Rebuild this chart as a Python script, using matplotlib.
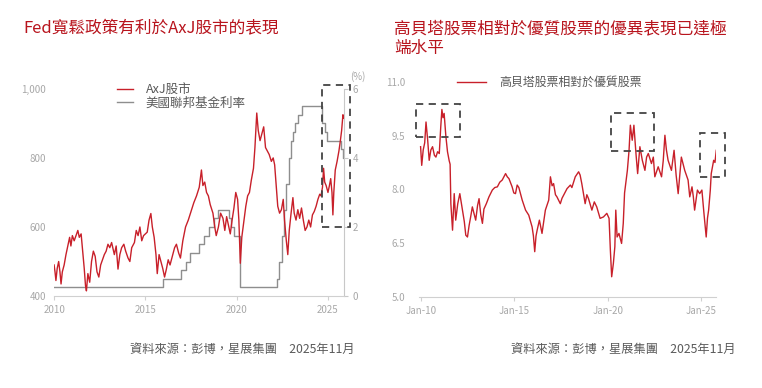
"""AxJ equities vs Fed funds, and high-beta vs quality relative performance."""

import matplotlib

matplotlib.use("Agg")
import matplotlib.pyplot as plt
from matplotlib.patches import Rectangle

plt.rcParams["font.family"] = ["Noto Sans CJK TC", "DejaVu Sans"]

RED = "#c8202a"
TITLE_RED = "#b8141d"
GREY_LINE = "#8e8e8e"
TICK_GREY = "#a8a8a8"
TEXT_GREY = "#5a5a5a"
BOX = "#444444"

# ---- left panel: AxJ index (lhs) and Fed funds upper bound (rhs, %) ----
axj_year = [
    2010.00, 2010.05, 2010.10, 2010.17, 2010.25, 2010.32, 2010.38, 2010.45, 2010.55, 2010.65,
    2010.75, 2010.85, 2010.92, 2011.00, 2011.10, 2011.20, 2011.30, 2011.38, 2011.48, 2011.58,
    2011.65, 2011.72, 2011.77, 2011.85, 2011.95, 2012.05, 2012.15, 2012.25, 2012.35, 2012.45,
    2012.55, 2012.65, 2012.75, 2012.85, 2012.95, 2013.05, 2013.15, 2013.30, 2013.40, 2013.50,
    2013.60, 2013.70, 2013.82, 2013.92, 2014.05, 2014.15, 2014.25, 2014.40, 2014.50, 2014.60,
    2014.70, 2014.80, 2014.90, 2015.00, 2015.10, 2015.20, 2015.30, 2015.38, 2015.48, 2015.58,
    2015.65, 2015.75, 2015.85, 2015.95, 2016.05, 2016.15, 2016.25, 2016.35, 2016.50, 2016.60,
    2016.70, 2016.82, 2016.92, 2017.05, 2017.20, 2017.35, 2017.50, 2017.65, 2017.80, 2017.95,
    2018.07, 2018.15, 2018.25, 2018.35, 2018.45, 2018.55, 2018.70, 2018.80, 2018.88, 2019.00,
    2019.12, 2019.25, 2019.35, 2019.45, 2019.55, 2019.65, 2019.75, 2019.85, 2019.95, 2020.05,
    2020.12, 2020.20, 2020.28, 2020.40, 2020.50, 2020.60, 2020.70, 2020.80, 2020.92, 2021.00,
    2021.10, 2021.18, 2021.28, 2021.38, 2021.48, 2021.58, 2021.68, 2021.78, 2021.90, 2022.00,
    2022.08, 2022.15, 2022.25, 2022.35, 2022.45, 2022.55, 2022.62, 2022.72, 2022.80, 2022.88,
    2022.98, 2023.08, 2023.15, 2023.25, 2023.35, 2023.45, 2023.55, 2023.65, 2023.75, 2023.85,
    2023.95, 2024.05, 2024.15, 2024.25, 2024.35, 2024.45, 2024.55, 2024.62, 2024.70, 2024.76,
    2024.82, 2024.90, 2025.00, 2025.08, 2025.15, 2025.22, 2025.27, 2025.32, 2025.40, 2025.50,
    2025.60, 2025.68, 2025.75, 2025.82, 2025.85,
]
axj_value = [
    490, 470, 445, 480, 500, 470, 435, 470, 490, 520,
    545, 570, 545, 575, 560, 575, 590, 570, 580, 520,
    480, 430, 415, 465, 440, 500, 530, 515, 470, 455,
    490, 505, 520, 530, 550, 540, 555, 520, 545, 478,
    520, 540, 550, 530, 510, 500, 540, 555, 590, 575,
    600, 560, 575, 580, 585, 620, 639, 600, 570, 520,
    465, 520, 500, 480, 455, 478, 505, 490, 520, 540,
    550, 525, 510, 560, 600, 620, 645, 670, 690, 715,
    765, 720, 730, 700, 690, 665, 640, 600, 575, 600,
    640, 625, 590, 630, 605, 580, 620, 655, 700, 680,
    620, 495, 570, 620, 660, 690, 700, 735, 770, 830,
    930, 880, 850, 870, 890, 830, 820, 810, 790, 800,
    780, 730, 660, 640, 650, 680, 620, 560, 520, 590,
    640, 685, 640, 620, 650, 625, 655, 620, 590, 600,
    620, 600, 635, 645, 660, 680, 695, 690, 715, 770,
    730, 720, 700, 720, 740, 700, 635, 700, 765, 790,
    820, 850, 880, 925, 915,
]

fed_year = [
    2010.00, 2015.96, 2016.96, 2017.21, 2017.46, 2017.96, 2018.21, 2018.46, 2018.74, 2018.96,
    2019.58, 2019.71, 2019.83, 2020.17, 2022.21, 2022.34, 2022.46, 2022.57, 2022.72, 2022.84,
    2022.96, 2023.09, 2023.22, 2023.34, 2023.57, 2024.66, 2024.85, 2024.97, 2025.72, 2025.80,
    2025.86,
]
fed_rate = [
    0.25, 0.50, 0.75, 1.00, 1.25, 1.50, 1.75, 2.00, 2.25, 2.50,
    2.25, 2.00, 1.75, 0.25, 0.50, 1.00, 1.75, 2.50, 3.25, 4.00,
    4.50, 4.75, 5.00, 5.25, 5.50, 5.00, 4.75, 4.50, 4.25, 4.00,
    4.00,
]

left_yticks = [400, 600, 800, 1000]
left_ylabels = ["400", "600", "800", "1,000"]
rate_ticks = [0, 2, 4, 6]
left_xticks = [2010, 2015, 2020, 2025]

# ---- right panel: high beta relative to quality ----
beta_year = [
    2009.98, 2010.04, 2010.12, 2010.20, 2010.27, 2010.36, 2010.44, 2010.53, 2010.62, 2010.72,
    2010.80, 2010.89, 2010.98, 2011.06, 2011.12, 2011.18, 2011.24, 2011.33, 2011.42, 2011.51,
    2011.56, 2011.60, 2011.69, 2011.78, 2011.86, 2011.97, 2012.08, 2012.22, 2012.32, 2012.40,
    2012.49, 2012.58, 2012.66, 2012.75, 2012.93, 2013.03, 2013.11, 2013.20, 2013.29, 2013.37,
    2013.50, 2013.64, 2013.82, 2013.95, 2014.09, 2014.22, 2014.35, 2014.53, 2014.62, 2014.71,
    2014.88, 2014.97, 2015.06, 2015.15, 2015.24, 2015.42, 2015.60, 2015.77, 2015.95, 2016.02,
    2016.09, 2016.16, 2016.22, 2016.34, 2016.48, 2016.57, 2016.66, 2016.84, 2016.93, 2017.02,
    2017.10, 2017.20, 2017.28, 2017.46, 2017.55, 2017.64, 2017.82, 2018.00, 2018.08, 2018.26,
    2018.44, 2018.52, 2018.61, 2018.79, 2018.88, 2018.97, 2019.15, 2019.28, 2019.41, 2019.59,
    2019.77, 2019.95, 2020.07, 2020.14, 2020.21, 2020.30, 2020.38, 2020.43, 2020.50, 2020.60,
    2020.74, 2020.83, 2020.90, 2020.96, 2021.05, 2021.14, 2021.21, 2021.31, 2021.40, 2021.51,
    2021.60, 2021.72, 2021.85, 2021.99, 2022.08, 2022.17, 2022.34, 2022.44, 2022.52, 2022.70,
    2022.88, 2022.97, 2023.06, 2023.14, 2023.23, 2023.41, 2023.55, 2023.66, 2023.77, 2023.94,
    2024.12, 2024.30, 2024.39, 2024.51, 2024.58, 2024.65, 2024.80, 2024.92, 2025.04, 2025.15,
    2025.27, 2025.34, 2025.40, 2025.49, 2025.54, 2025.67, 2025.74, 2025.81,
]
beta_value = [
    9.19, 8.67, 9.10, 9.30, 9.88, 9.37, 8.81, 9.10, 9.19, 8.95,
    8.90, 9.05, 9.00, 9.75, 10.23, 10.00, 10.12, 9.50, 9.05, 8.80,
    8.70, 7.60, 6.86, 7.88, 7.14, 7.60, 7.88, 7.42, 7.10, 6.72,
    6.67, 7.00, 7.23, 7.51, 7.14, 7.55, 7.74, 7.30, 7.05, 7.45,
    7.60, 7.79, 7.98, 8.05, 8.07, 8.20, 8.26, 8.44, 8.35, 8.30,
    8.07, 7.90, 7.88, 8.12, 8.05, 7.70, 7.42, 7.28, 6.95, 6.70,
    6.26, 6.70, 6.86, 7.14, 6.77, 7.10, 7.42, 7.70, 8.35, 8.10,
    8.16, 7.85, 7.79, 7.60, 7.75, 7.84, 8.02, 8.12, 8.05, 8.35,
    8.49, 8.40, 8.16, 7.60, 7.85, 7.74, 7.42, 7.65, 7.51, 7.19,
    7.23, 7.33, 7.19, 6.30, 5.56, 5.93, 6.40, 7.42, 6.67, 6.77,
    6.49, 7.05, 7.90, 8.16, 8.53, 9.09, 9.79, 9.37, 9.79, 9.00,
    8.44, 9.19, 8.81, 8.53, 8.90, 9.00, 8.72, 8.90, 8.35, 8.63,
    8.35, 8.80, 9.51, 9.10, 8.81, 8.53, 9.09, 8.40, 7.88, 8.90,
    8.53, 8.26, 7.79, 8.07, 7.80, 7.42, 7.98, 7.88, 7.98, 7.33,
    6.67, 7.20, 7.42, 7.98, 8.44, 8.81, 8.75, 9.09,
]
right_yticks = [5.0, 6.5, 8.0, 9.5, 11.0]
right_xticks = [2010, 2015, 2020, 2025]
right_xlabels = ["Jan-10", "Jan-15", "Jan-20", "Jan-25"]

# highlighted periods: (x0, x1, y0, y1) in data units
left_box = (2024.65, 2026.20, 600, 1010)
right_boxes = [
    (2009.72, 2012.10, 9.46, 10.38),
    (2020.16, 2022.50, 9.06, 10.12),
    (2024.95, 2026.28, 8.35, 9.58),
]

source = "資料來源：彭博，星展集團　2025年11月"


def style_axis(ax, ypad) -> None:
    for side in ("top", "left", "right"):
        ax.spines[side].set_visible(False)
    ax.spines["bottom"].set_color("#d0d0d0")
    ax.tick_params(axis="x", colors="#d0d0d0", labelcolor=TICK_GREY, labelsize=7, length=3, width=0.8)
    ax.tick_params(axis="y", length=0, labelcolor=TICK_GREY, labelsize=7, pad=ypad)


def add_box(ax, box) -> None:
    x0, x1, y0, y1 = box
    ax.add_patch(Rectangle((x0, y0), x1 - x0, y1 - y0, fill=False, edgecolor=BOX,
                           linewidth=1.3, linestyle=(0, (4, 3)), clip_on=False, zorder=5))


fig = plt.figure(figsize=(7.62, 3.88), dpi=100)

# left panel
ax1 = fig.add_axes([0.071, 0.237, 0.380, 0.534])
style_axis(ax1, ypad=6)
ax1.plot(axj_year, axj_value, color=RED, linewidth=1.0, zorder=3, label="AxJ股市")
ax1.set_xlim(2010, 2025.86)
ax1.set_ylim(400, 1000)
ax1.set_yticks(left_yticks, left_ylabels)
ax1.set_xticks(left_xticks)
add_box(ax1, left_box)

ax1r = ax1.twinx()
ax1r.step(fed_year, fed_rate, where="post", color=GREY_LINE, linewidth=1.0, zorder=2, label="美國聯邦基金利率")
ax1r.set_ylim(0, 6)
ax1r.set_yticks(rate_ticks)
for side in ("top", "left", "bottom"):
    ax1r.spines[side].set_visible(False)
ax1r.spines["right"].set_color("#c8c8c8")
ax1r.tick_params(axis="y", colors="#c8c8c8", labelcolor=TICK_GREY, labelsize=7, length=3, width=0.8)
ax1r.text(1.05, 1.035, "(%)", transform=ax1r.transAxes, fontsize=7, color=TICK_GREY, ha="center", va="bottom")
ax1.set_zorder(ax1r.get_zorder() + 1)
ax1.patch.set_visible(False)

handles = ax1.get_lines()[:1] + ax1r.get_lines()[:1]
fig.legend(handles, [h.get_label() for h in handles], loc="upper left", bbox_to_anchor=(0.142, 0.808),
           frameon=False, fontsize=9, handlelength=1.3, handletextpad=1.0, labelspacing=0.05,
           borderpad=0.2, labelcolor=TEXT_GREY)

# right panel
ax2 = fig.add_axes([0.550, 0.235, 0.390, 0.554])
style_axis(ax2, ypad=10)
ax2.plot(beta_year, beta_value, color=RED, linewidth=1.0, label="高貝塔股票相對於優質股票")
ax2.set_xlim(2009.9, 2025.81)
ax2.set_ylim(5.0, 11.0)
ax2.set_yticks(right_yticks, [f"{v:.1f}" for v in right_yticks])
ax2.set_xticks(right_xticks, right_xlabels)
for box in right_boxes:
    add_box(ax2, box)
ax2.legend(loc="upper left", bbox_to_anchor=(0.10, 1.065), frameon=False, fontsize=8.6,
           handlelength=2.4, handletextpad=1.1, borderpad=0.2, labelcolor=TEXT_GREY)

# titles and sources
fig.text(0.031, 0.925, "Fed寬鬆政策有利於AxJ股市的表現", fontsize=12, color=TITLE_RED, va="center")
fig.text(0.517, 0.925, "高貝塔股票相對於優質股票的優異表現已達極", fontsize=12, color=TITLE_RED, va="center")
fig.text(0.517, 0.875, "端水平", fontsize=12, color=TITLE_RED, va="center")
fig.text(0.465, 0.100, source, fontsize=8.8, color=TEXT_GREY, ha="right", va="center")
fig.text(0.965, 0.100, source, fontsize=8.8, color=TEXT_GREY, ha="right", va="center")

fig.savefig("out.png", dpi=100, facecolor="white")
plt.close(fig)
